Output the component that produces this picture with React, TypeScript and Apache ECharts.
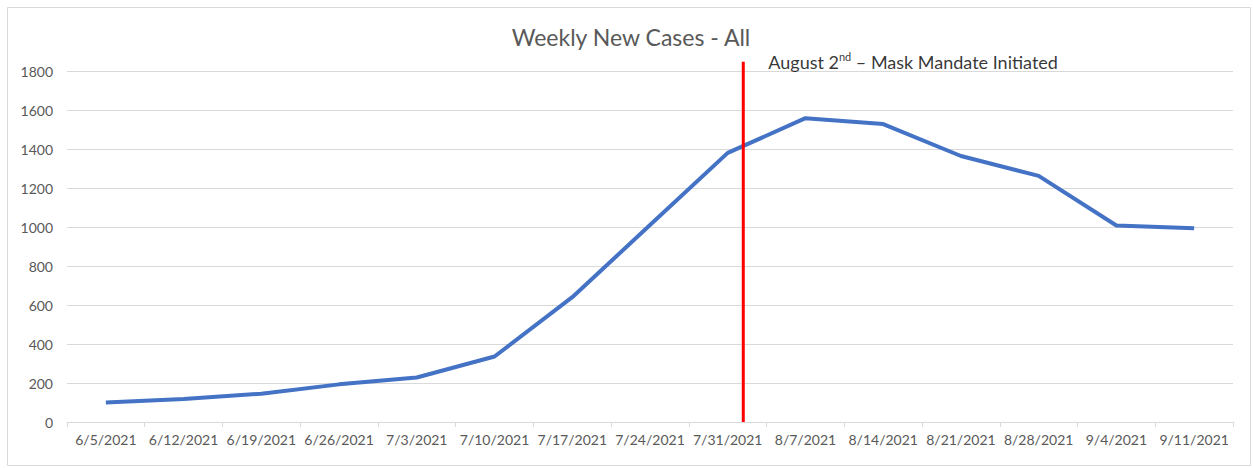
import React, { useEffect, useRef } from "react";
import * as echarts from "echarts";

const categories = [
  "6/5/2021", "6/12/2021", "6/19/2021", "6/26/2021", "7/3/2021", "7/10/2021", "7/17/2021",
  "7/24/2021", "7/31/2021", "8/7/2021", "8/14/2021", "8/21/2021", "8/28/2021", "9/4/2021", "9/11/2021",
];
const weeklyCases = [100, 118, 145, 193, 228, 336, 640, 1010, 1380, 1558, 1528, 1364, 1262, 1008, 994];
const yTicks = { min: 0, max: 1800, interval: 200 };
const mandatePosition = 8.2; // between 7/31 and 8/7 (category index)
const mandateTop = 1848;
const titleText = "Weekly New Cases - All";

const FONT = "Lato, 'Open Sans', sans-serif";

export default function App() {
  const ref = useRef<HTMLDivElement>(null);
  useEffect(() => {
    const chart = echarts.init(ref.current!, null, { renderer: "svg" });
    chart.setOption({
      animation: false,
      backgroundColor: "#ffffff",
      title: {
        text: titleText,
        left: 626,
        top: 20,
        textAlign: "center",
        textStyle: { fontFamily: FONT, fontSize: 23, fontWeight: "normal", color: "#595959" },
      },
      graphic: [
        {
          type: "rect",
          left: 5,
          top: 5,
          shape: { width: 1243, height: 458 },
          style: { fill: "none", stroke: "#d9d9d9", lineWidth: 1 },
          silent: true,
        },
      ],
      grid: { left: 67, right: 20, top: 71, bottom: 46, containLabel: false },
      xAxis: [
        {
          type: "category",
          data: categories,
          boundaryGap: true,
          axisLine: { lineStyle: { color: "#d9d9d9" } },
          axisTick: { show: true, length: 5, lineStyle: { color: "#d9d9d9" } },
          axisLabel: { color: "#595959", fontSize: 14, fontFamily: FONT, margin: 10, interval: 0 },
        },
        {
          type: "value",
          min: -0.5,
          max: categories.length - 0.5,
          show: false,
        },
      ],
      yAxis: {
        type: "value",
        min: yTicks.min,
        max: yTicks.max,
        interval: yTicks.interval,
        axisLine: { show: false },
        axisTick: { show: false },
        splitLine: { lineStyle: { color: "#d9d9d9", width: 1 } },
        axisLabel: {
          color: "#595959",
          fontSize: 14,
          fontFamily: FONT,
          margin: 14,
          formatter: (v: number) => String(v),
        },
      },
      series: [
        {
          type: "line",
          data: weeklyCases,
          xAxisIndex: 0,
          symbol: "none",
          lineStyle: { color: "#4472C4", width: 4 },
          z: 3,
        },
        {
          type: "line",
          xAxisIndex: 1,
          clip: false,
          symbol: "none",
          lineStyle: { color: "#ff0000", width: 3 },
          data: [
            [mandatePosition, 0],
            [mandatePosition, mandateTop],
          ],
          z: 4,
        },
        {
          type: "scatter",
          xAxisIndex: 1,
          clip: false,
          symbol: "circle",
          symbolSize: 2,
          itemStyle: { color: "rgba(0,0,0,0)" },
          data: [[mandatePosition, mandateTop]],
          label: {
            show: true,
            position: "right",
            distance: 24,
            formatter: "{a|August 2}{s|nd}{a| – Mask Mandate Initiated}",
            rich: {
              a: { fontFamily: FONT, fontSize: 18, color: "#000000" },
              s: { fontFamily: FONT, fontSize: 11, color: "#000000", padding: [0, 0, 10, 0] },
            },
          },
          z: 5,
        },
      ],
    });
    return () => chart.dispose();
  }, []);
  return (
    <div
      ref={ref}
      style={{ position: "absolute", left: 0, top: 0, width: 1253, height: 468 }}
    />
  );
}
